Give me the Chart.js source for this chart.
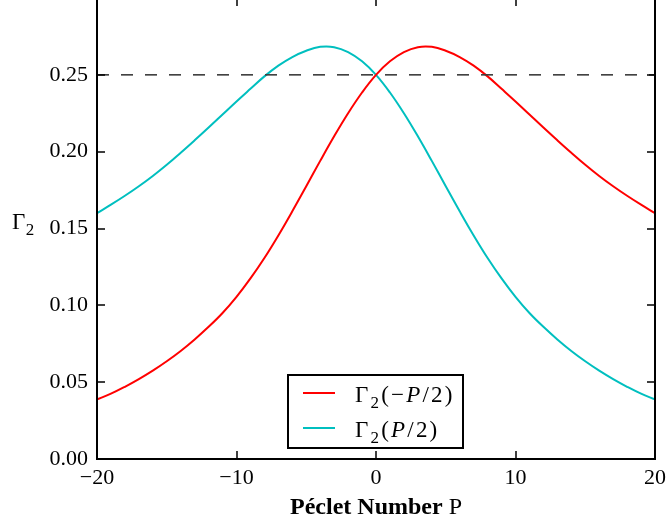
<!DOCTYPE html>
<html>
<head>
<meta charset="utf-8">
<script src="https://cdn.jsdelivr.net/npm/chart.js@4.4.1/dist/chart.umd.min.js"></script>
<style>
  html, body { margin: 0; padding: 0; background: #ffffff; overflow: hidden; }
  #wrap { position: absolute; left: 0; top: -10px; width: 667px; height: 535px; }
</style>
</head>
<body>
<div id="wrap"><canvas id="c" width="667" height="535"></canvas></div>
<script>
// ---- data ----
const P_VALUES = [-20, -19, -18, -17, -16, -15, -14, -13, -12, -11, -10, -9, -8, -7, -6, -5, -4, -3, -2, -1, 0,
                  1, 2, 3, 4, 5, 6, 7, 8, 9, 10, 11, 12, 13, 14, 15, 16, 17, 18, 19, 20];
const CYAN_VALUES = [0.160, 0.1655, 0.1713, 0.1775, 0.1842, 0.1915, 0.1993, 0.2074, 0.2157, 0.2242, 0.2327,
                     0.2409, 0.2490, 0.2560, 0.2616, 0.2657, 0.2682, 0.2680, 0.2648, 0.2588, 0.250,
                     0.2385, 0.2250, 0.2100, 0.1940, 0.1775, 0.1612, 0.1455, 0.1308, 0.1175, 0.1055,
                     0.0950, 0.0860, 0.0778, 0.0703, 0.0636, 0.0575, 0.0520, 0.0470, 0.0425, 0.0388];
const RED_VALUES = [0.0388, 0.0425, 0.0470, 0.0520, 0.0575, 0.0636, 0.0703, 0.0778, 0.0860, 0.0950,
                    0.1055, 0.1175, 0.1308, 0.1455, 0.1612, 0.1775, 0.1940, 0.2100, 0.2250, 0.2385, 0.250,
                    0.2588, 0.2648, 0.2680, 0.2682, 0.2657, 0.2616, 0.2560, 0.2490, 0.2409, 0.2327,
                    0.2242, 0.2157, 0.2074, 0.1993, 0.1915, 0.1842, 0.1775, 0.1713, 0.1655, 0.160];
const REF_X = [-20, 20];
const REF_LEVEL = [0.25, 0.25];
const X_TICKS = [-20, -10, 0, 10, 20];
const Y_TICKS = [0.00, 0.05, 0.10, 0.15, 0.20, 0.25, 0.30];
const LEGEND_LABELS = [
  [{t: 'Γ'}, {t: '2', sub: true}, {t: '('}, {t: '−'}, {t: 'P', it: true}, {t: '/'}, {t: '2'}, {t: ')'}],
  [{t: 'Γ'}, {t: '2', sub: true}, {t: '('}, {t: 'P', it: true}, {t: '/'}, {t: '2'}, {t: ')'}]
];
const X_TITLE = [{t: 'Péclet Number ', b: true}, {t: 'P'}];
const Y_TITLE = [{t: 'Γ'}, {t: '2', sub: true}];

const FONT = 'Liberation Serif';
const RED = '#ff0000';
const CYAN = '#00bfbf';

function toXY(xs, ys) { return xs.map((x, i) => ({x: x, y: ys[i]})); }
function fmtX(v) { return v < 0 ? '\u2212' + Math.abs(v) : String(v); }

function segFont(s, size) {
  const sz = s.sub ? Math.round(size * 0.72) : size;
  return (s.it ? 'italic ' : '') + (s.b ? 'bold ' : '') + sz + 'px "' + FONT + '"';
}
function segWidth(ctx, segs, size, gap) {
  let w = 0;
  segs.forEach((s, i) => { ctx.font = segFont(s, size); w += ctx.measureText(s.t).width + (i ? gap : 0); });
  return w;
}
function drawSegs(ctx, segs, x, y, size, gap) {
  ctx.textBaseline = 'alphabetic';
  ctx.textAlign = 'left';
  segs.forEach((s, i) => {
    if (i) x += gap;
    ctx.font = segFont(s, size);
    ctx.fillText(s.t, x, s.sub ? y + size * 0.28 : y);
    x += ctx.measureText(s.t).width;
  });
}

const framePlugin = {
  id: 'frame',
  afterDatasetsDraw(chart) {
    const ctx = chart.ctx;
    const a = chart.chartArea;
    const xs = chart.scales.x, ys = chart.scales.y;
    ctx.save();
    ctx.strokeStyle = '#000';
    ctx.fillStyle = '#000';
    // inward tick marks on all four sides
    ctx.lineWidth = 1.5;
    ctx.beginPath();
    X_TICKS.forEach(v => {
      const px = Math.round(xs.getPixelForValue(v));
      ctx.moveTo(px, a.bottom); ctx.lineTo(px, a.bottom - 8);
      ctx.moveTo(px, a.top); ctx.lineTo(px, a.top + 8);
    });
    Y_TICKS.forEach(v => {
      const py = Math.round(ys.getPixelForValue(v));
      ctx.moveTo(a.left, py); ctx.lineTo(a.left + 8, py);
      ctx.moveTo(a.right, py); ctx.lineTo(a.right - 8, py);
    });
    ctx.stroke();
    // frame
    ctx.lineWidth = 2;
    ctx.strokeRect(a.left, a.top, a.right - a.left, a.bottom - a.top);

    // legend
    const lx = 288, ly = 375 + 10, lw = 175, lh = 73;
    ctx.fillStyle = '#fff';
    ctx.fillRect(lx, ly, lw, lh);
    ctx.strokeStyle = '#000';
    ctx.lineWidth = 2;
    ctx.strokeRect(lx, ly, lw, lh);
    const rows = [{c: RED, y: 393 + 10}, {c: CYAN, y: 428 + 10}];
    rows.forEach((r, i) => {
      ctx.strokeStyle = r.c;
      ctx.lineWidth = 2;
      ctx.beginPath();
      ctx.moveTo(303, r.y); ctx.lineTo(335, r.y);
      ctx.stroke();
      ctx.fillStyle = '#000';
      drawSegs(ctx, LEGEND_LABELS[i], 355, r.y + 9, 23, 2.2);
    });

    // x title
    ctx.fillStyle = '#000';
    const tw = segWidth(ctx, X_TITLE, 24, 0);
    drawSegs(ctx, X_TITLE, (a.left + a.right) / 2 - tw / 2, 514 + 10, 24, 0);

    // y title
    drawSegs(ctx, Y_TITLE, 12, 229 + 10, 23, 0.5);
    ctx.restore();
  }
};

function noPad(s) { s.paddingTop = 0; s.paddingBottom = 0; s.paddingLeft = 0; s.paddingRight = 0; }

new Chart(document.getElementById('c'), {
  type: 'scatter',
  data: {
    datasets: [
      { label: 'ref', data: toXY(REF_X, REF_LEVEL), showLine: true, borderColor: '#3c3c3c', borderWidth: 1.6, borderDash: [12, 12], pointRadius: 0, fill: false },
      { label: 'Γ2(−P/2)', data: toXY(P_VALUES, RED_VALUES), showLine: true, borderColor: RED, borderWidth: 2, pointRadius: 0, tension: 0.4, fill: false },
      { label: 'Γ2(P/2)', data: toXY(P_VALUES, CYAN_VALUES), showLine: true, borderColor: CYAN, borderWidth: 2, pointRadius: 0, tension: 0.4, fill: false }
    ]
  },
  options: {
    responsive: false,
    animation: false,
    devicePixelRatio: 1,
    layout: { padding: { top: 8, right: 12, left: 0, bottom: 0 } },
    plugins: { legend: { display: false }, tooltip: { enabled: false } },
    scales: {
      x: {
        type: 'linear', min: -20, max: 20,
        afterFit: s => { s.height = 66; noPad(s); },
        afterBuildTicks: s => { s.ticks = X_TICKS.map(v => ({value: v})); },
        grid: { display: false, drawTicks: false },
        border: { display: false },
        ticks: { color: '#000', font: { family: FONT, size: 22 }, padding: 6, maxRotation: 0, callback: v => fmtX(v) }
      },
      y: {
        type: 'linear', min: 0, max: 0.30,
        afterFit: s => { s.width = 97; noPad(s); },
        afterBuildTicks: s => { s.ticks = Y_TICKS.map(v => ({value: v})); },
        grid: { display: false, drawTicks: false },
        border: { display: false },
        ticks: { color: '#000', font: { family: FONT, size: 22 }, padding: 9, callback: v => (v > 0.29 ? '' : v.toFixed(2)) }
      }
    }
  },
  plugins: [framePlugin]
});
</script>
</body>
</html>
